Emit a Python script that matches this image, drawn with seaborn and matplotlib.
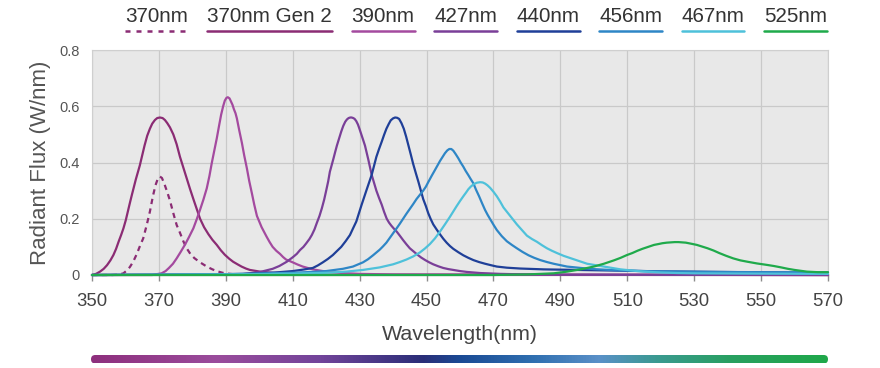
import numpy as np
import pandas as pd
import matplotlib
matplotlib.use("Agg")
import matplotlib.pyplot as plt
import seaborn as sns
from matplotlib.colors import LinearSegmentedColormap
from matplotlib.patches import FancyBboxPatch
from matplotlib.lines import Line2D

# ---------------- data ----------------
series_names = ["370nm", "370nm Gen 2", "390nm", "427nm", "440nm", "456nm", "467nm", "525nm"]
series_colors = ["#8B2C74", "#8B2C74", "#A44A9F", "#7A3F98", "#1F3F98", "#2E86C6", "#4EC1DA", "#1FAA4B"]

wl_370 = [350, 356, 357.5, 358.5, 359.4, 360.3, 361.3, 362.3, 363.4, 364.4, 365.3, 366.3, 367.3,
          368.2, 369, 369.7, 370.3, 370.9, 371.6, 372.4, 373.3, 374.3, 375.3, 376.3, 377.3, 378.3,
          379.4, 380.6, 382.3, 384.3, 386, 387.5, 389, 390.5, 393]
flux_370 = [0, 0, 0.001, 0.003, 0.006, 0.015, 0.028, 0.047, 0.075, 0.105, 0.13, 0.175, 0.225,
            0.28, 0.32, 0.343, 0.35, 0.345, 0.325, 0.298, 0.265, 0.22, 0.178, 0.15, 0.12, 0.095,
            0.075, 0.06, 0.045, 0.03, 0.02, 0.013, 0.008, 0.005, 0.002]

wl_370g2 = [350, 351.2, 352.4, 353.5, 354.5, 355.5, 356.4, 357.2, 358, 358.7, 359.4, 360.1, 360.7,
            361.3, 361.9, 362.5, 363.1, 363.7, 364.3, 365, 365.7, 366.5, 367.3, 368, 368.8, 369.5,
            370.3, 371.1, 371.8, 372.5, 373.3, 374.3, 375.3, 376.3, 377.3, 378.3, 379.3, 380.3,
            381.3, 382.3, 383.5, 384.8, 386, 387.3, 388.5, 389.7, 391, 392.2, 393.5, 394.7, 396,
            397.2, 398.7, 400.2, 402.5, 405, 410, 420, 570]
flux_370g2 = [0, 0.004, 0.012, 0.022, 0.035, 0.052, 0.071, 0.093, 0.12, 0.142, 0.166, 0.195, 0.225,
              0.255, 0.284, 0.312, 0.34, 0.365, 0.39, 0.425, 0.46, 0.495, 0.52, 0.538, 0.551, 0.558,
              0.56, 0.558, 0.551, 0.54, 0.525, 0.5, 0.465, 0.42, 0.382, 0.344, 0.306, 0.27,
              0.235, 0.2, 0.17, 0.145, 0.125, 0.107, 0.088, 0.072, 0.058, 0.047, 0.038, 0.03, 0.023,
              0.018, 0.015, 0.012, 0.009, 0.006, 0.003, 0.001, 0]

wl_390 = [350, 368, 370.8, 372, 373, 374.2, 375.3, 376.5, 377.8, 379, 380.3, 381.3, 382.3, 383.3,
          384.3, 385.1, 385.8, 386.6, 387.3, 388, 388.6, 389.2, 389.7, 390.2, 390.6, 391.1, 391.5,
          392, 392.4, 392.9, 393.3, 394, 394.8, 395.5, 396.3, 397, 397.8, 398.5, 399.3, 400.7,
          402.2, 403.1, 404, 405.1, 406.2, 407.1, 408, 409, 410, 411.5, 413, 414.5, 416, 418, 420,
          425, 430, 440, 570]
flux_390 = [0, 0, 0.006, 0.014, 0.025, 0.04, 0.059, 0.082, 0.108, 0.135, 0.166, 0.198, 0.232, 0.268,
            0.308, 0.352, 0.398, 0.445, 0.486, 0.532, 0.57, 0.6, 0.62, 0.63, 0.632, 0.628, 0.618,
            0.605, 0.59, 0.575, 0.557, 0.515, 0.47, 0.425, 0.379, 0.334, 0.29, 0.25, 0.21, 0.17,
            0.136, 0.117, 0.1, 0.086, 0.075, 0.064, 0.055, 0.05, 0.045, 0.037, 0.03, 0.025, 0.02,
            0.016, 0.012, 0.007, 0.004, 0.002, 0]

wl_427 = [350, 395, 400, 404, 406, 408.2, 410, 411.2, 412.2, 413.2, 414, 415, 415.7, 416.5, 417.2,
          418, 418.7, 419.4, 420, 420.6, 421.1, 421.7, 422.2, 422.7, 423.2, 423.9, 424.5, 425.1,
          425.7, 426.2, 426.7, 427.2, 427.6, 428.1, 428.5, 429, 429.5, 430, 430.5, 431, 431.6, 432.1,
          432.6, 433.1, 433.6, 434.3, 435, 435.8, 436.6, 437.3, 438.1, 438.8, 439.5, 440.3, 441.1,
          442, 443, 444, 445, 446.2, 447.3, 448.4, 449.6, 450.8, 452, 453.5, 455, 456.5, 458, 460,
          462, 466, 472, 480, 490, 570]
flux_427 = [0, 0.003, 0.01, 0.022, 0.032, 0.047, 0.063, 0.075, 0.089, 0.1, 0.112, 0.128, 0.142,
            0.162, 0.185, 0.21, 0.237, 0.268, 0.3, 0.333, 0.367, 0.393, 0.415, 0.438, 0.46, 0.487,
            0.51, 0.53, 0.545, 0.553, 0.558, 0.56, 0.56, 0.558, 0.555, 0.547, 0.535, 0.518, 0.5,
            0.482, 0.46, 0.435, 0.41, 0.383, 0.356, 0.328, 0.3, 0.274, 0.25, 0.225, 0.2, 0.186,
            0.175, 0.164, 0.154, 0.14, 0.124, 0.109, 0.095, 0.083, 0.072, 0.062, 0.053, 0.045,
            0.038, 0.031, 0.025, 0.021, 0.018, 0.014, 0.011, 0.007, 0.004, 0.002, 0.001, 0]

wl_440 = [350, 380, 395, 400, 406, 410, 413, 416, 417.5, 419, 420.5, 422, 423.2, 424.5, 425.8,
          427.1, 428, 429, 429.8, 430.6, 431.3, 432, 432.8, 433.6, 434.3, 435, 435.8, 436.6, 437.3,
          438, 438.7, 439.3, 440, 440.6, 441.2, 441.8, 442.5, 443.2, 443.9, 444.6, 445.3, 446,
          446.8, 447.6, 448.3, 449, 449.8, 450.5, 451.2, 452, 453, 454, 455, 456, 457, 458, 459.5,
          461, 462.5, 464, 465.7, 467.5, 469.2, 471, 474, 478, 485, 490, 500, 520, 545, 570]
flux_440 = [0, 0.001, 0.004, 0.006, 0.01, 0.014, 0.019, 0.025, 0.034, 0.045, 0.057, 0.071, 0.085,
            0.1, 0.12, 0.142, 0.165, 0.19, 0.22, 0.25, 0.275, 0.3, 0.328, 0.356, 0.388, 0.42, 0.448,
            0.474, 0.498, 0.52, 0.537, 0.55, 0.557, 0.56, 0.559, 0.555, 0.54, 0.52, 0.492, 0.46,
            0.428, 0.395, 0.362, 0.33, 0.3, 0.27, 0.245, 0.22, 0.2, 0.18, 0.162, 0.145, 0.129, 0.115,
            0.103, 0.093, 0.081, 0.07, 0.061, 0.053, 0.046, 0.04, 0.035, 0.03, 0.026, 0.023, 0.02,
            0.019, 0.017, 0.013, 0.01, 0.008]

wl_456 = [350, 370, 390, 400, 410, 416, 420, 425, 428, 431, 432.5, 434, 435, 436, 437, 438, 439.5,
          441, 442, 443, 444, 445, 446, 447, 448, 449, 449.8, 450.5, 451.5, 452.5, 453.3, 454, 454.8,
          455.5, 456.2, 456.8, 457.4, 458, 458.7, 459.5, 460.2, 461, 461.7, 462.5, 463.2, 464,
          464.8, 465.7, 466.6, 467.5, 468.3, 469.2, 470.1, 471, 472.5, 474, 475.5, 477, 478.7,
          480.5, 482.2, 484, 486, 488, 490, 492, 494.5, 497, 500, 503, 506.5, 510, 515, 520, 527.5,
          535, 542.5, 550, 560, 570]
flux_456 = [0, 0.001, 0.003, 0.005, 0.008, 0.011, 0.014, 0.022, 0.03, 0.045, 0.056, 0.07, 0.08,
            0.09, 0.102, 0.115, 0.14, 0.165, 0.182, 0.2, 0.218, 0.235, 0.252, 0.27, 0.285, 0.3,
            0.314, 0.33, 0.352, 0.373, 0.39, 0.405, 0.42, 0.433, 0.443, 0.448, 0.448, 0.442, 0.43,
            0.415, 0.4, 0.385, 0.37, 0.355, 0.341, 0.326, 0.303, 0.28, 0.255, 0.231, 0.213, 0.195,
            0.177, 0.16, 0.138, 0.12, 0.107, 0.095, 0.082, 0.07, 0.061, 0.053, 0.046, 0.04, 0.035,
            0.03, 0.027, 0.024, 0.021, 0.019, 0.017, 0.016, 0.014, 0.013, 0.012, 0.011, 0.0105,
            0.01, 0.0095, 0.009]

wl_467 = [350, 390, 410, 420, 426, 431, 436, 440, 442, 444, 446, 448, 449.5, 451, 452.5, 454, 455.5,
          457, 458, 459, 460, 461, 461.8, 462.5, 463.2, 464, 465, 466, 466.8, 467.5, 468.2, 469, 470,
          471, 472, 473, 474, 475, 476, 477, 478.5, 480, 481.5, 483, 484.5, 486, 487.5, 489, 491,
          493, 495.5, 498, 500.5, 503, 505.5, 508, 510.5, 513, 516.5, 520, 525, 530, 537.5, 545,
          557.5, 570]
flux_467 = [0, 0.002, 0.005, 0.008, 0.012, 0.018, 0.027, 0.038, 0.046, 0.055, 0.066, 0.08, 0.094,
            0.11, 0.13, 0.154, 0.18, 0.207, 0.226, 0.245, 0.263, 0.28, 0.293, 0.305, 0.314, 0.322,
            0.328, 0.33, 0.329, 0.325, 0.319, 0.31, 0.296, 0.28, 0.261, 0.24, 0.225, 0.21, 0.195,
            0.18, 0.16, 0.14, 0.128, 0.118, 0.106, 0.095, 0.086, 0.078, 0.068, 0.06, 0.05, 0.04,
            0.035, 0.03, 0.025, 0.02, 0.017, 0.014, 0.011, 0.009, 0.007, 0.006, 0.0055, 0.005,
            0.0045, 0.004]

wl_525 = [350, 470, 480, 484, 488, 490, 492, 494, 496, 498, 500, 501.5, 503, 504.5, 506, 508,
          509.9, 511.5, 513, 514.5, 516, 517, 518, 519.3, 520.5, 521.8, 523, 524.2, 525.3, 526.4,
          527.5, 529.2, 530.8, 532.4, 534, 535.8, 537.5, 539.6, 541.7, 543.8, 546, 548.8, 551.7,
          553.8, 556, 558, 560, 561.8, 563.7, 565.3, 567, 570]
flux_525 = [0, 0, 0.002, 0.004, 0.006, 0.009, 0.012, 0.016, 0.02, 0.025, 0.03, 0.035, 0.04, 0.046,
            0.052, 0.061, 0.071, 0.078, 0.086, 0.093, 0.099, 0.103, 0.107, 0.11, 0.113, 0.115, 0.116,
            0.117, 0.117, 0.116, 0.115, 0.111, 0.107, 0.101, 0.095, 0.087, 0.078, 0.068, 0.059,
            0.052, 0.047, 0.041, 0.036, 0.032, 0.027, 0.022, 0.018, 0.015, 0.012, 0.011, 0.01, 0.01]

series_wl = [wl_370, wl_370g2, wl_390, wl_427, wl_440, wl_456, wl_467, wl_525]
series_flux = [flux_370, flux_370g2, flux_390, flux_427, flux_440, flux_456, flux_467, flux_525]

x_ticks = [350, 370, 390, 410, 430, 450, 470, 490, 510, 530, 550, 570]
y_ticks = [0, 0.2, 0.4, 0.6, 0.8]
y_tick_labels = ["0", "0.2", "0.4", "0.6", "0.8"]
x_label = "Wavelength(nm)"
y_label = "Radiant Flux (W/nm)"

spectrum_colors = ["#8E2F7D", "#9A4C9C", "#72449A", "#2A2E78", "#1A4A94", "#2F6FB0",
                   "#5A90C8", "#3A9A90", "#28A060", "#1FA84A"]
spectrum_stops = [0.0, 0.17, 0.31, 0.45, 0.5, 0.6, 0.69, 0.77, 0.87, 1.0]

# ---------------- build table ----------------
frames = []
for name, w, f in zip(series_names, series_wl, series_flux):
    frames.append(pd.DataFrame({"wl": w, "flux": f, "series": name}))
df = pd.concat(frames, ignore_index=True)

palette = dict(zip(series_names, series_colors))
dashes = {n: "" for n in series_names}
dashes["370nm"] = (2.4, 2.0)

# ---------------- figure ----------------
sns.set_theme(style="white")
plt.rcParams['font.family'] = ['Liberation Sans', 'DejaVu Sans']

W, H = 880, 368
fig = plt.figure(figsize=(W / 100, H / 100), dpi=100)
fig.patch.set_facecolor("white")
ax = fig.add_axes([92 / W, 93 / H, 736 / W, 225 / H])
ax.set_facecolor("#E8E8E8")

sns.lineplot(data=df, x="wl", y="flux", hue="series", style="series",
             hue_order=series_names, style_order=series_names,
             palette=palette, dashes=dashes, sort=False, estimator=None,
             legend=False, linewidth=1.6, ax=ax)
for ln in ax.lines:
    ln.set_clip_on(False)
    ln.set_zorder(3)
    ln.set_solid_capstyle("round")
    ln.set_solid_joinstyle("round")

ax.set_xlim(350, 570)
ax.set_ylim(0, 0.8)
ax.set_xticks(x_ticks)
ax.set_xticklabels([str(v) for v in x_ticks])
ax.set_yticks(y_ticks)
ax.set_yticklabels(y_tick_labels)
ax.grid(True, color="#C9C9C9", linewidth=0.9)
ax.set_axisbelow(True)

for side in ["left", "top", "right"]:
    ax.spines[side].set_color("#CFCFCF")
    ax.spines[side].set_linewidth(0.8)
ax.spines["bottom"].set_color("#8C8C8C")
ax.spines["bottom"].set_linewidth(1.6)

ax.tick_params(axis="x", length=4, width=1, color="#8C8C8C", pad=9,
               labelsize=13.3, labelcolor="#444444", direction="out", bottom=True)
ax.tick_params(axis="y", length=0, pad=9, labelsize=10.5, labelcolor="#555555")

ax.set_xlabel(x_label, fontsize=15.4, color="#444444", labelpad=11)
ax.set_ylabel(y_label, fontsize=16, color="#555555", labelpad=6)

# ---------------- legend (text above line) ----------------
renderer = fig.canvas.get_renderer()
x_px = 125
for name, col in zip(series_names, series_colors):
    t = fig.text(x_px / W, (H - 17) / H, name, fontsize=14.9, color="#333333",
                 ha="left", va="center")
    bb = t.get_window_extent(renderer)
    wpx = bb.width
    ls = (0, (2.0, 2.4)) if name == "370nm" else "-"
    fig.add_artist(Line2D([x_px / W, (x_px + wpx) / W], [(H - 31) / H] * 2,
                          color=col, linewidth=1.8, linestyle=ls,
                          transform=fig.transFigure))
    x_px += wpx + 19.5

# ---------------- gradient bar ----------------
bax = fig.add_axes([91 / W, (H - 363.5) / H, 737 / W, 8.5 / H])
bax.set_xlim(0, 737)
bax.set_ylim(0, 8.5)
bax.axis("off")
cmap = LinearSegmentedColormap.from_list("spec", list(zip(spectrum_stops, spectrum_colors)))
grad = np.linspace(0, 1, 512)[None, :]
im = bax.imshow(grad, cmap=cmap, aspect="auto", extent=[0, 737, 0, 8.5], interpolation="bilinear")
clip = FancyBboxPatch((0, 0), 737, 8.5, boxstyle="round,pad=0,rounding_size=4.25",
                      transform=bax.transData, facecolor="none", edgecolor="none")
bax.add_patch(clip)
im.set_clip_path(clip)

fig.savefig("out.png", dpi=100)
